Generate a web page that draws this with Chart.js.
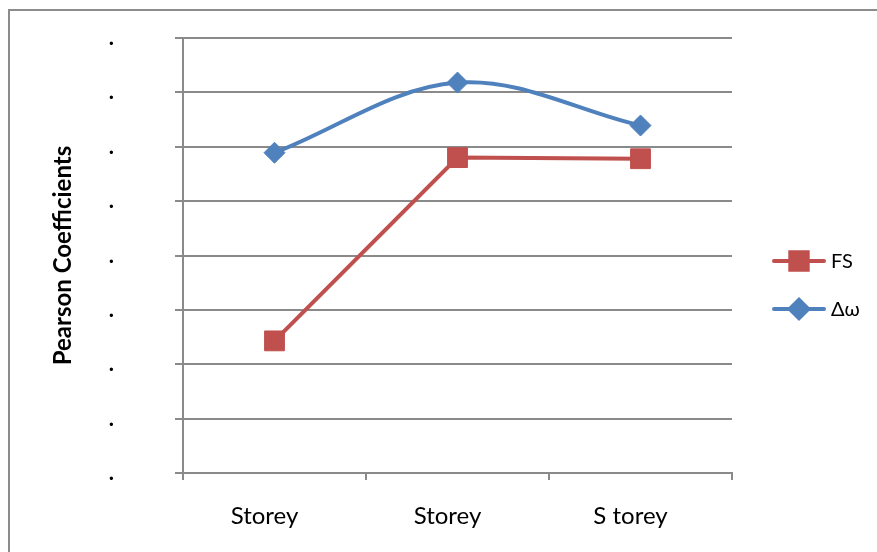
<!DOCTYPE html>
<html lang="en">
<head>
<meta charset="UTF-8">
<title>Pearson Coefficients</title>
<script src="https://cdn.jsdelivr.net/npm/chart.js@4"></script>
<style>
  html, body { margin: 0; padding: 0; background: #fff; }
  #wrap { position: relative; width: 877px; height: 552px; overflow: hidden; }
  #frame { position: absolute; left: 8px; top: 9px; width: 900px; height: 600px;
           border-left: 2px solid #8c8c8c; border-top: 2px solid #8c8c8c; }
  #chart { position: absolute; left: 0; top: 0; }
</style>
</head>
<body>
<div id="wrap">
  <div id="frame"></div>
  <canvas id="chart" width="877" height="552"></canvas>
</div>

<script>
// storeys on the x axis
const categories = ['Storey', 'Storey', 'S torey'];

// Pearson coefficients per storey
const fsValues = [0.243, 0.580, 0.578];
const dwValues = [0.589, 0.718, 0.639];

// y axis range and its labels
const yMin = 0;
const yMax = 0.8;
const yStep = 0.1;
const yTickLabels = ['.', '.', '.', '.', '.', '.', '.', '.', '.'];

const FONT = 'Lato, "Open Sans", sans-serif';
const GRID = '#8a8a8a';

// legend on the right: a short line with the marker in the middle
const sideLegend = {
    id: 'sideLegend',
    afterDraw(chart, args, opts) {
        const ctx = chart.ctx;
        chart.data.datasets.forEach((ds, i) => {
            const y = opts.top + i * opts.spacing;
            const x0 = opts.x;
            const x1 = opts.x + opts.length;
            ctx.save();
            ctx.strokeStyle = ds.borderColor;
            ctx.lineWidth = ds.borderWidth;
            ctx.lineCap = 'round';
            ctx.beginPath();
            ctx.moveTo(x0 + 2, y);
            ctx.lineTo(x1 - 2, y);
            ctx.stroke();

            ctx.fillStyle = ds.backgroundColor;
            ctx.strokeStyle = ds.borderColor;
            Chart.helpers.drawPoint(ctx, {
                pointStyle: ds.pointStyle,
                radius: ds.pointRadius * 0.88,
                borderWidth: 1,
                rotation: 0
            }, (x0 + x1) / 2, y);

            ctx.fillStyle = '#000';
            ctx.font = '20px ' + FONT;
            ctx.textAlign = 'left';
            ctx.textBaseline = 'middle';
            ctx.fillText(ds.label, x1 + 5, y + 1);
            ctx.restore();
        });
    }
};

new Chart(document.getElementById('chart'), {
    type: 'line',
    data: {
        labels: categories,
        datasets: [{
            label: 'FS',
            data: fsValues,
            borderColor: '#C0504D',
            backgroundColor: '#C0504D',
            borderWidth: 4,
            pointStyle: 'rect',
            pointRadius: 14,
            pointBorderWidth: 1,
            tension: 0
        }, {
            label: 'Δω',
            data: dwValues,
            borderColor: '#4F81BD',
            backgroundColor: '#4F81BD',
            borderWidth: 4,
            pointStyle: 'rectRot',
            pointRadius: 10.5,
            pointBorderWidth: 1,
            tension: 0.35
        }]
    },
    options: {
        responsive: false,
        animation: false,
        layout: { padding: { left: 0, top: 38, right: 145, bottom: 0 } },
        plugins: {
            legend: { display: false },
            tooltip: { enabled: false },
            sideLegend: { x: 772, length: 54, top: 261, spacing: 48 }
        },
        scales: {
            x: {
                offset: true,
                grid: {
                    offset: true,
                    drawOnChartArea: false,
                    color: GRID,
                    lineWidth: 2,
                    tickLength: 7
                },
                border: { color: GRID, width: 2 },
                ticks: {
                    color: '#000',
                    font: { family: FONT, size: 24 },
                    padding: 22,
                    labelOffset: -10,
                    maxRotation: 0
                },
                afterFit(scale) { scale.height = 79; }
            },
            y: {
                min: yMin,
                max: yMax,
                grid: { color: GRID, lineWidth: 2, tickLength: 8 },
                border: { color: GRID, width: 2 },
                ticks: {
                    stepSize: yStep,
                    color: '#000',
                    font: { family: FONT, size: 22, weight: 'bold' },
                    padding: 61,
                    callback: (v, i) => yTickLabels[i]
                },
                title: {
                    display: true,
                    text: 'Pearson Coefficients',
                    color: '#000',
                    font: { family: FONT, size: 24, weight: 'bold' },
                    padding: { top: 49, bottom: 0 }
                },
                // the wide tick padding should not push the plot down
                afterFit(scale) {
                    scale.width = 183;
                    scale.paddingTop = 0;
                    scale.paddingBottom = 0;
                }
            }
        }
    },
    plugins: [sideLegend]
});
</script>
</body>
</html>
